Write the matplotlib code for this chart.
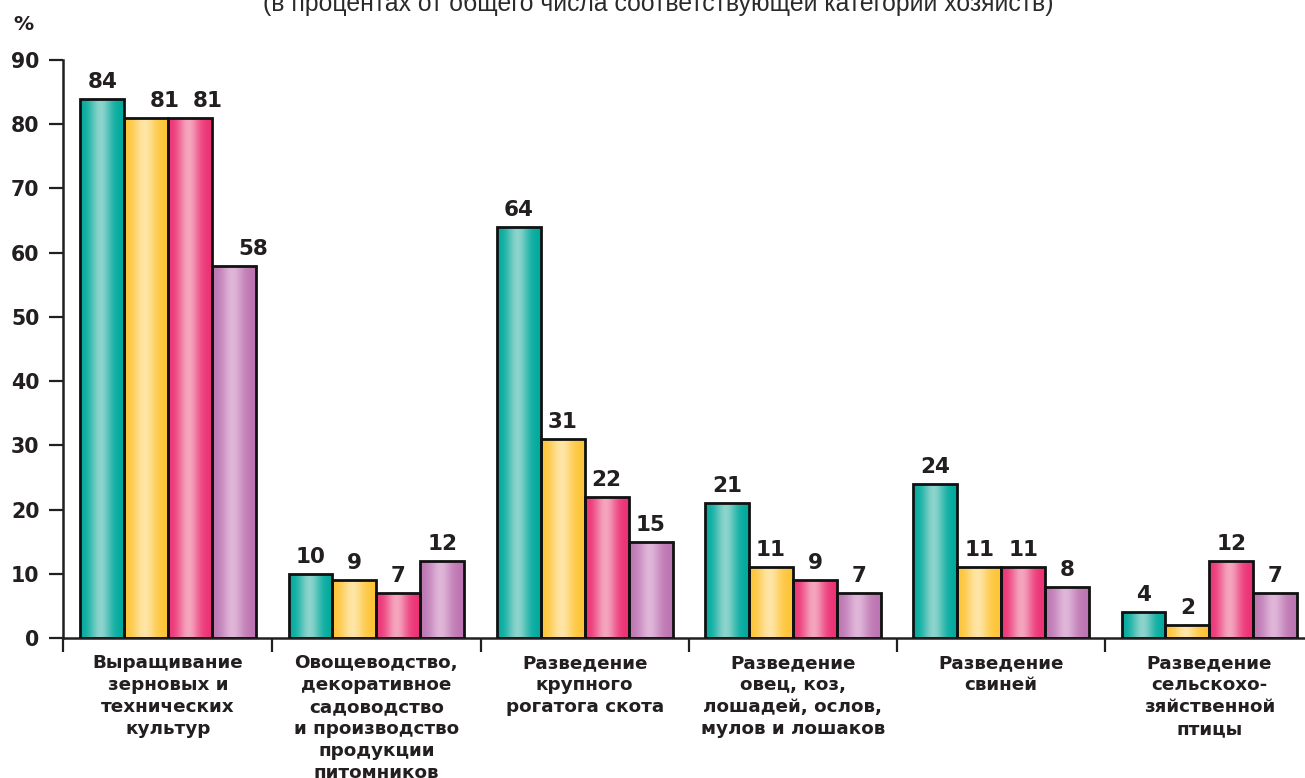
import numpy as np
import matplotlib
matplotlib.use("Agg")
import matplotlib.pyplot as plt
from matplotlib.colors import to_rgb

# ---- data ----
categories = [
    "Выращивание\nзерновых и\nтехнических\nкультур",
    "Овощеводство,\nдекоративное\nсадоводство\nи производство\nпродукции\nпитомников",
    "Разведение\nкрупного\nрогатога скота",
    "Разведение\nовец, коз,\nлошадей, ослов,\nмулов и лошаков",
    "Разведение\nсвиней",
    "Разведение\nсельскохо-\nзяйственной\nптицы",
]
series_1 = [84, 10, 64, 21, 24, 4]
series_2 = [81, 9, 31, 11, 11, 2]
series_3 = [81, 7, 22, 9, 11, 12]
series_4 = [58, 12, 15, 7, 8, 7]
y_ticks = [0, 10, 20, 30, 40, 50, 60, 70, 80, 90]
title_text = "(в процентах от общего числа соответствующей категории хозяйств)"
unit_text = "%"

# ---- style ----
dark_text = "#231F20"
palette = [
    ("#00A99D", "#8CD4CC"),
    ("#FDC436", "#FFE5A6"),
    ("#EC3074", "#F5A5BD"),
    ("#BC74B1", "#DFB6D8"),
]
# manual label nudges (points) for crowded first group
label_nudge = {(1, 0): 13, (2, 0): 13, (3, 0): 14}

W, H = 1305, 778
fig = plt.figure(figsize=(W / 100, H / 100), dpi=100)
ax = fig.add_axes([63 / W, 1 - 638 / H, 1 - 63 / W, (638 - 60) / H])

n = len(categories)
x = np.arange(n)
bw = 0.211
all_series = [series_1, series_2, series_3, series_4]

t = np.linspace(0, 1, 256)
profile = np.exp(-((t - 0.47) / 0.25) ** 2)

for k, vals in enumerate(all_series):
    dark, light = (np.array(to_rgb(c)) for c in palette[k])
    grad = dark[None, :] * (1 - profile[:, None]) + light[None, :] * profile[:, None]
    img = grad[None, :, :]
    pos = x + (k - 1.5) * bw
    bars = ax.bar(pos, vals, width=bw, facecolor="none", edgecolor="#111111",
                  linewidth=2.0, zorder=3)
    for i, rect in enumerate(bars):
        x0, y0 = rect.get_xy()
        w, h = rect.get_width(), rect.get_height()
        im = ax.imshow(img, extent=[x0, x0 + w, y0, y0 + h], aspect="auto",
                       interpolation="bilinear", zorder=2)
        im.set_clip_path(rect)
        dx = label_nudge.get((k, i), 0)
        ax.annotate(str(vals[i]), (pos[i], vals[i]), xytext=(dx, 5),
                    textcoords="offset points", ha="center", va="bottom",
                    fontsize=15.5, fontweight="bold", color=dark_text,
                    family="DejaVu Sans", zorder=4)

ax.set_xlim(-0.505, 5.459)
ax.set_ylim(0, 90)

for s in ["top", "right"]:
    ax.spines[s].set_visible(False)
for s in ["left", "bottom"]:
    ax.spines[s].set_color(dark_text)
    ax.spines[s].set_linewidth(1.8)
ax.spines["left"].set_bounds(0, 90)

ax.set_yticks(y_ticks)
ax.set_yticklabels([str(v) for v in y_ticks])
ax.tick_params(axis="y", direction="out", length=10, width=1.6, color=dark_text,
               pad=7, labelsize=14.8, labelcolor=dark_text)
for lab in ax.get_yticklabels():
    lab.set_fontweight("bold")
    lab.set_family("DejaVu Sans")

ax.set_xticks(x)
ax.set_xticklabels(categories)
ax.set_xticks([-0.505, 0.5, 1.5, 2.5, 3.5, 4.5], minor=True)
ax.tick_params(axis="x", which="major", length=0, pad=11.5, labelsize=13.2,
               labelcolor=dark_text)
ax.tick_params(axis="x", which="minor", direction="out", length=10, width=1.6,
               color=dark_text)
for lab in ax.get_xticklabels():
    lab.set_fontweight("bold")
    lab.set_family("DejaVu Sans")
    lab.set_linespacing(1.29)
    lab.set_multialignment("center")

fig.text(13 / W, 1 - 30 / H, unit_text, fontsize=14.5, fontweight="bold",
         family="DejaVu Sans", color=dark_text, va="baseline", ha="left")
fig.text(658 / W, 1 - 11 / H, title_text, fontsize=17.8, family="Liberation Sans",
         color="#2a2a2a", va="baseline", ha="center")

fig.savefig("out.png", dpi=100)
